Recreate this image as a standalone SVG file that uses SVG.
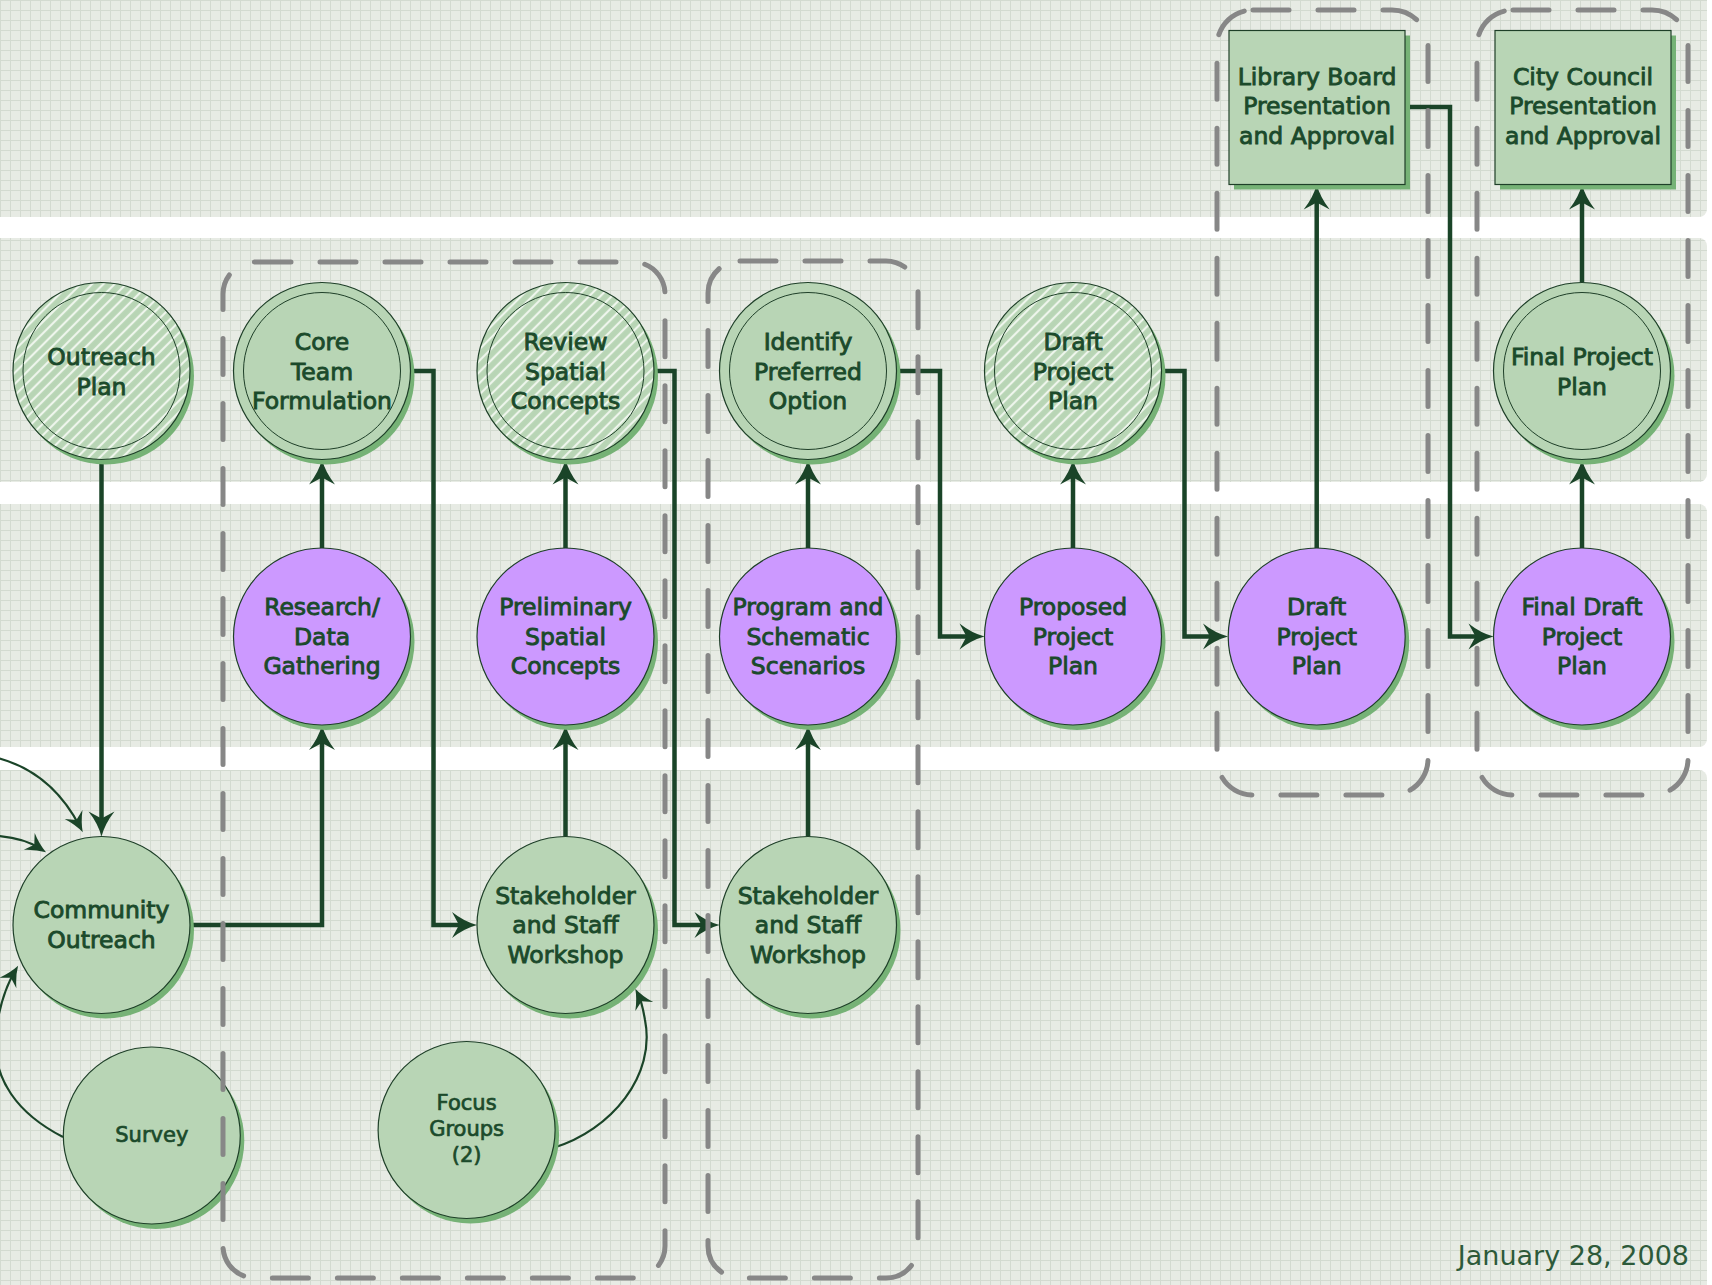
<svg xmlns="http://www.w3.org/2000/svg" width="1712" height="1285" viewBox="0 0 1712 1285">
<defs>
<pattern id="grid" width="10" height="10" patternUnits="userSpaceOnUse">
<rect width="10" height="10" fill="#e7ebe4"/>
<path d="M0,0.5 H10 M0.5,0 V10" stroke="#d3dad0" stroke-width="1" fill="none"/>
</pattern>
<pattern id="hatch" width="8" height="8" patternUnits="userSpaceOnUse" patternTransform="rotate(45)">
<rect width="8" height="8" fill="#b8d5b5"/>
<line x1="2" y1="0" x2="2" y2="8" stroke="#eef5ec" stroke-width="2.2"/>
</pattern>
<marker id="arr" markerUnits="userSpaceOnUse" viewBox="-28 -15 30 30" markerWidth="30" markerHeight="30" refX="-8" refY="0" orient="auto">
<path d="M0,0 Q-13,-3.5 -25,-13 L-18,0 L-25,13 Q-13,3.5 0,0 Z" fill="#1a4428"/>
</marker>
<marker id="arrS" markerUnits="userSpaceOnUse" viewBox="-24 -12 26 24" markerWidth="26" markerHeight="24" refX="-6" refY="0" orient="auto">
<path d="M0,0 Q-10,-3 -20,-10 L-14,0 L-20,10 Q-10,3 0,0 Z" fill="#1a4428"/>
</marker>
<style>
.conn{fill:none;stroke:#1a4428;stroke-width:4.5;marker-end:url(#arr)}
.thin{fill:none;stroke:#1a4428;stroke-width:2.2;marker-end:url(#arrS)}
.sh{fill:#76b276}
.g{fill:#b8d5b5;stroke:#1e3f28;stroke-width:1.2}
.h{fill:url(#hatch);stroke:#1e3f28;stroke-width:1.2}
.p{fill:#cc99ff;stroke:#1e3f28;stroke-width:1.2}
.in{fill:none;stroke:#1e3f28;stroke-width:1}
.t{font-family:"DejaVu Sans",sans-serif;font-size:23.5px;fill:#1b4a2b;stroke:#1b4a2b;stroke-width:0.9;text-anchor:middle}
.ts{font-size:21px;stroke-width:0.7}
.box{fill:none;stroke:#878787;stroke-width:5;stroke-dasharray:36 29;stroke-linecap:round}
.date{font-family:"DejaVu Sans",sans-serif;font-size:27px;fill:#2d5a3a;text-anchor:end}
</style>
</defs>
<rect width="1712" height="1285" fill="#ffffff"/>
<g id="panels">
<rect x="-20" y="-20" width="1727" height="237" rx="8" fill="url(#grid)"/>
<rect x="-20" y="238" width="1727" height="244" rx="8" fill="url(#grid)"/>
<rect x="-20" y="504" width="1727" height="243" rx="8" fill="url(#grid)"/>
<rect x="-20" y="770" width="1727" height="535" rx="8" fill="url(#grid)"/>
</g>
<g id="connectors">
<path class="conn" d="M101.5,459.5 V828.5"/>
<path class="conn" d="M190,925 H322 V733"/>
<path class="conn" d="M322,548 V467.5"/>
<path class="conn" d="M410.5,371 H433.5 V925 H469"/>
<path class="conn" d="M565.5,836.5 V733"/>
<path class="conn" d="M565.5,548 V467.5"/>
<path class="conn" d="M654,371 H674.5 V925 H711.5"/>
<path class="conn" d="M808,836.5 V733"/>
<path class="conn" d="M808,548 V467.5"/>
<path class="conn" d="M896.5,371 H940 V636.5 H976.5"/>
<path class="conn" d="M1073,548 V467.5"/>
<path class="conn" d="M1161.5,371 H1184.5 V636.5 H1220"/>
<path class="conn" d="M1316.7,548 V192.5"/>
<path class="conn" d="M1405,107 H1450 V636.5 H1485.5"/>
<path class="conn" d="M1582,548 V467.5"/>
<path class="conn" d="M1582,282.5 V192.5"/>
<path class="thin" d="M-2,758 C35,768 62,792 80,827"/>
<path class="thin" d="M-2,836 Q24,838 41,849"/>
<path class="thin" d="M63,1137 C20,1115 -10,1080 -4,1030 C0,1003 6,986 15,971"/>
<path class="thin" d="M553,1148 C612,1130 656,1075 645,1020 C643,1008 641,1000 638,994"/>
</g>
<g id="outreach-plan">
<circle class="sh" cx="105.5" cy="376" r="88.5"/>
<circle class="h" cx="101.5" cy="371" r="88.5"/>
<circle class="in" cx="101.5" cy="371" r="78.5"/>
<text class="t" x="101.5" y="364.5">Outreach</text>
<text class="t" x="101.5" y="394.5">Plan</text>
</g>
<g id="core-team">
<circle class="sh" cx="326" cy="376" r="88.5"/>
<circle class="g" cx="322" cy="371" r="88.5"/>
<circle class="in" cx="322" cy="371" r="78.5"/>
<text class="t" x="322" y="350">Core</text>
<text class="t" x="322" y="379.5">Team</text>
<text class="t" x="322" y="409">Formulation</text>
</g>
<g id="review-spatial">
<circle class="sh" cx="569.5" cy="376" r="88.5"/>
<circle class="h" cx="565.5" cy="371" r="88.5"/>
<circle class="in" cx="565.5" cy="371" r="78.5"/>
<text class="t" x="565.5" y="350">Review</text>
<text class="t" x="565.5" y="379.5">Spatial</text>
<text class="t" x="565.5" y="409">Concepts</text>
</g>
<g id="identify-option">
<circle class="sh" cx="812" cy="376" r="88.5"/>
<circle class="g" cx="808" cy="371" r="88.5"/>
<circle class="in" cx="808" cy="371" r="78.5"/>
<text class="t" x="808" y="350">Identify</text>
<text class="t" x="808" y="379.5">Preferred</text>
<text class="t" x="808" y="409">Option</text>
</g>
<g id="draft-plan-top">
<circle class="sh" cx="1077" cy="376" r="88.5"/>
<circle class="h" cx="1073" cy="371" r="88.5"/>
<circle class="in" cx="1073" cy="371" r="78.5"/>
<text class="t" x="1073" y="350">Draft</text>
<text class="t" x="1073" y="379.5">Project</text>
<text class="t" x="1073" y="409">Plan</text>
</g>
<g id="final-plan">
<circle class="sh" cx="1586" cy="376" r="88.5"/>
<circle class="g" cx="1582" cy="371" r="88.5"/>
<circle class="in" cx="1582" cy="371" r="78.5"/>
<text class="t" x="1582" y="364.5">Final Project</text>
<text class="t" x="1582" y="394.5">Plan</text>
</g>
<g id="research">
<circle class="sh" cx="326" cy="641.5" r="88.5"/>
<circle class="p" cx="322" cy="636.5" r="88.5"/>
<text class="t" x="322" y="615">Research/</text>
<text class="t" x="322" y="644.5">Data</text>
<text class="t" x="322" y="674">Gathering</text>
</g>
<g id="preliminary">
<circle class="sh" cx="569.5" cy="641.5" r="88.5"/>
<circle class="p" cx="565.5" cy="636.5" r="88.5"/>
<text class="t" x="565.5" y="615">Preliminary</text>
<text class="t" x="565.5" y="644.5">Spatial</text>
<text class="t" x="565.5" y="674">Concepts</text>
</g>
<g id="program">
<circle class="sh" cx="812" cy="641.5" r="88.5"/>
<circle class="p" cx="808" cy="636.5" r="88.5"/>
<text class="t" x="808" y="615">Program and</text>
<text class="t" x="808" y="644.5">Schematic</text>
<text class="t" x="808" y="674">Scenarios</text>
</g>
<g id="proposed">
<circle class="sh" cx="1077" cy="641.5" r="88.5"/>
<circle class="p" cx="1073" cy="636.5" r="88.5"/>
<text class="t" x="1073" y="615">Proposed</text>
<text class="t" x="1073" y="644.5">Project</text>
<text class="t" x="1073" y="674">Plan</text>
</g>
<g id="draft-plan">
<circle class="sh" cx="1320.7" cy="641.5" r="88.5"/>
<circle class="p" cx="1316.7" cy="636.5" r="88.5"/>
<text class="t" x="1316.7" y="615">Draft</text>
<text class="t" x="1316.7" y="644.5">Project</text>
<text class="t" x="1316.7" y="674">Plan</text>
</g>
<g id="final-draft">
<circle class="sh" cx="1586" cy="641.5" r="88.5"/>
<circle class="p" cx="1582" cy="636.5" r="88.5"/>
<text class="t" x="1582" y="615">Final Draft</text>
<text class="t" x="1582" y="644.5">Project</text>
<text class="t" x="1582" y="674">Plan</text>
</g>
<g id="community-outreach">
<circle class="sh" cx="105.5" cy="930" r="88.5"/>
<circle class="g" cx="101.5" cy="925" r="88.5"/>
<text class="t" x="101.5" y="917.5">Community</text>
<text class="t" x="101.5" y="947.5">Outreach</text>
</g>
<g id="workshop-1">
<circle class="sh" cx="569.5" cy="930" r="88.5"/>
<circle class="g" cx="565.5" cy="925" r="88.5"/>
<text class="t" x="565.5" y="903.5">Stakeholder</text>
<text class="t" x="565.5" y="933">and Staff</text>
<text class="t" x="565.5" y="962.5">Workshop</text>
</g>
<g id="workshop-2">
<circle class="sh" cx="812" cy="930" r="88.5"/>
<circle class="g" cx="808" cy="925" r="88.5"/>
<text class="t" x="808" y="903.5">Stakeholder</text>
<text class="t" x="808" y="933">and Staff</text>
<text class="t" x="808" y="962.5">Workshop</text>
</g>
<g id="survey">
<circle class="sh" cx="155.8" cy="1140.5" r="88.5"/>
<circle class="g" cx="151.8" cy="1135.5" r="88.5"/>
<text class="t ts" x="151.8" y="1142">Survey</text>
</g>
<g id="focus-groups">
<circle class="sh" cx="470.6" cy="1135" r="88.5"/>
<circle class="g" cx="466.6" cy="1130" r="88.5"/>
<text class="t ts" x="466.6" y="1109.5">Focus</text>
<text class="t ts" x="466.6" y="1136">Groups</text>
<text class="t ts" x="466.6" y="1162">(2)</text>
</g>
<g id="library-board">
<rect class="sh" x="1234" y="35.5" width="176" height="154"/>
<rect class="g" x="1229" y="30.5" width="176" height="154"/>
<text class="t" x="1317" y="84.5">Library Board</text>
<text class="t" x="1317" y="114">Presentation</text>
<text class="t" x="1317" y="143.5">and Approval</text>
</g>
<g id="city-council">
<rect class="sh" x="1500" y="35.5" width="176" height="154"/>
<rect class="g" x="1495" y="30.5" width="176" height="154"/>
<text class="t" x="1583" y="84.5">City Council</text>
<text class="t" x="1583" y="114">Presentation</text>
<text class="t" x="1583" y="143.5">and Approval</text>
</g>
<g id="phase-groups">
<rect class="box" x="223" y="262" width="442" height="1016" rx="32"/>
<rect class="box" x="708" y="261" width="210" height="1017" rx="32"/>
<rect class="box" x="1217" y="10" width="211" height="785" rx="36"/>
<rect class="box" x="1477" y="10" width="211" height="785" rx="36"/>
</g>
<text class="date" x="1689" y="1265">January 28, 2008</text>
</svg>
